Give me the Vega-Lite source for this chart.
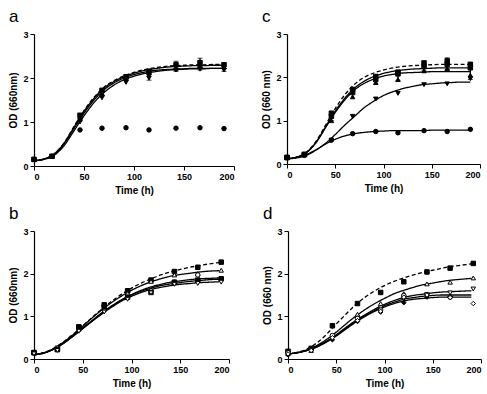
{
  "$schema": "https://vega.github.io/schema/vega-lite/v6.json",
  "padding": {"left": 8, "top": 8, "right": 4, "bottom": 2},
  "background": "white",
  "spacing": 10,
  "config": {
    "view": {"stroke": null},
    "font": "Liberation Sans",
    "axis": {"grid": false, "domainColor": "black", "tickColor": "black", "labelColor": "black", "titleColor": "black", "labelFont": "Liberation Sans", "titleFont": "Liberation Sans", "labelFontWeight": "bold", "titleFontWeight": "bold", "labelFontSize": 9, "titleFontSize": 10, "tickSize": 4, "labelPadding": 2, "domainWidth": 1.2},
    "axisX": {"titlePadding": 4},
    "axisY": {"titlePadding": 4},
    "title": {"font": "Liberation Sans", "fontSize": 17, "fontWeight": "normal", "anchor": "start", "frame": "bounds", "color": "black", "offset": 4}
  },
  "datasets": {
    "curves": [
      {"panel":"a","series":"ctrl","t":0,"od":0.12},{"panel":"a","series":"ctrl","t":10,"od":0.16},{"panel":"a","series":"ctrl","t":20,"od":0.27},{"panel":"a","series":"ctrl","t":30,"od":0.52},{"panel":"a","series":"ctrl","t":40,"od":0.9},{"panel":"a","series":"ctrl","t":50,"od":1.26},{"panel":"a","series":"ctrl","t":60,"od":1.56},{"panel":"a","series":"ctrl","t":70,"od":1.79},{"panel":"a","series":"ctrl","t":80,"od":1.94},{"panel":"a","series":"ctrl","t":90,"od":2.05},{"panel":"a","series":"ctrl","t":100,"od":2.13},{"panel":"a","series":"ctrl","t":110,"od":2.19},{"panel":"a","series":"ctrl","t":120,"od":2.23},{"panel":"a","series":"ctrl","t":130,"od":2.26},{"panel":"a","series":"ctrl","t":140,"od":2.28},{"panel":"a","series":"ctrl","t":150,"od":2.29},{"panel":"a","series":"ctrl","t":160,"od":2.3},{"panel":"a","series":"ctrl","t":170,"od":2.3},{"panel":"a","series":"ctrl","t":180,"od":2.31},{"panel":"a","series":"ctrl","t":190,"od":2.31},
      {"panel":"a","series":"tri_f","t":0,"od":0.12},{"panel":"a","series":"tri_f","t":10,"od":0.16},{"panel":"a","series":"tri_f","t":20,"od":0.27},{"panel":"a","series":"tri_f","t":30,"od":0.52},{"panel":"a","series":"tri_f","t":40,"od":0.88},{"panel":"a","series":"tri_f","t":50,"od":1.24},{"panel":"a","series":"tri_f","t":60,"od":1.54},{"panel":"a","series":"tri_f","t":70,"od":1.77},{"panel":"a","series":"tri_f","t":80,"od":1.92},{"panel":"a","series":"tri_f","t":90,"od":2.03},{"panel":"a","series":"tri_f","t":100,"od":2.11},{"panel":"a","series":"tri_f","t":110,"od":2.17},{"panel":"a","series":"tri_f","t":120,"od":2.21},{"panel":"a","series":"tri_f","t":130,"od":2.24},{"panel":"a","series":"tri_f","t":140,"od":2.26},{"panel":"a","series":"tri_f","t":150,"od":2.27},{"panel":"a","series":"tri_f","t":160,"od":2.28},{"panel":"a","series":"tri_f","t":170,"od":2.28},{"panel":"a","series":"tri_f","t":180,"od":2.29},{"panel":"a","series":"tri_f","t":190,"od":2.29},
      {"panel":"a","series":"itri_f","t":0,"od":0.12},{"panel":"a","series":"itri_f","t":10,"od":0.15},{"panel":"a","series":"itri_f","t":20,"od":0.24},{"panel":"a","series":"itri_f","t":30,"od":0.46},{"panel":"a","series":"itri_f","t":40,"od":0.8},{"panel":"a","series":"itri_f","t":50,"od":1.14},{"panel":"a","series":"itri_f","t":60,"od":1.44},{"panel":"a","series":"itri_f","t":70,"od":1.67},{"panel":"a","series":"itri_f","t":80,"od":1.84},{"panel":"a","series":"itri_f","t":90,"od":1.96},{"panel":"a","series":"itri_f","t":100,"od":2.04},{"panel":"a","series":"itri_f","t":110,"od":2.1},{"panel":"a","series":"itri_f","t":120,"od":2.14},{"panel":"a","series":"itri_f","t":130,"od":2.17},{"panel":"a","series":"itri_f","t":140,"od":2.19},{"panel":"a","series":"itri_f","t":150,"od":2.2},{"panel":"a","series":"itri_f","t":160,"od":2.21},{"panel":"a","series":"itri_f","t":170,"od":2.21},{"panel":"a","series":"itri_f","t":180,"od":2.22},{"panel":"a","series":"itri_f","t":190,"od":2.22},
      {"panel":"a","series":"dia_f","t":0,"od":0.12},{"panel":"a","series":"dia_f","t":10,"od":0.16},{"panel":"a","series":"dia_f","t":20,"od":0.26},{"panel":"a","series":"dia_f","t":30,"od":0.5},{"panel":"a","series":"dia_f","t":40,"od":0.85},{"panel":"a","series":"dia_f","t":50,"od":1.2},{"panel":"a","series":"dia_f","t":60,"od":1.5},{"panel":"a","series":"dia_f","t":70,"od":1.73},{"panel":"a","series":"dia_f","t":80,"od":1.89},{"panel":"a","series":"dia_f","t":90,"od":2.0},{"panel":"a","series":"dia_f","t":100,"od":2.08},{"panel":"a","series":"dia_f","t":110,"od":2.13},{"panel":"a","series":"dia_f","t":120,"od":2.17},{"panel":"a","series":"dia_f","t":130,"od":2.19},{"panel":"a","series":"dia_f","t":140,"od":2.2},{"panel":"a","series":"dia_f","t":150,"od":2.21},{"panel":"a","series":"dia_f","t":160,"od":2.22},{"panel":"a","series":"dia_f","t":170,"od":2.22},{"panel":"a","series":"dia_f","t":180,"od":2.22},{"panel":"a","series":"dia_f","t":190,"od":2.22},

      {"panel":"c","series":"ctrl","t":0,"od":0.12},{"panel":"c","series":"ctrl","t":10,"od":0.16},{"panel":"c","series":"ctrl","t":20,"od":0.27},{"panel":"c","series":"ctrl","t":30,"od":0.52},{"panel":"c","series":"ctrl","t":40,"od":0.9},{"panel":"c","series":"ctrl","t":50,"od":1.28},{"panel":"c","series":"ctrl","t":60,"od":1.6},{"panel":"c","series":"ctrl","t":70,"od":1.84},{"panel":"c","series":"ctrl","t":80,"od":2.0},{"panel":"c","series":"ctrl","t":90,"od":2.1},{"panel":"c","series":"ctrl","t":100,"od":2.17},{"panel":"c","series":"ctrl","t":110,"od":2.22},{"panel":"c","series":"ctrl","t":120,"od":2.25},{"panel":"c","series":"ctrl","t":130,"od":2.27},{"panel":"c","series":"ctrl","t":140,"od":2.28},{"panel":"c","series":"ctrl","t":150,"od":2.29},{"panel":"c","series":"ctrl","t":160,"od":2.3},{"panel":"c","series":"ctrl","t":170,"od":2.3},{"panel":"c","series":"ctrl","t":180,"od":2.3},{"panel":"c","series":"ctrl","t":190,"od":2.3},
      {"panel":"c","series":"fsq","t":0,"od":0.12},{"panel":"c","series":"fsq","t":10,"od":0.16},{"panel":"c","series":"fsq","t":20,"od":0.26},{"panel":"c","series":"fsq","t":30,"od":0.5},{"panel":"c","series":"fsq","t":40,"od":0.86},{"panel":"c","series":"fsq","t":50,"od":1.22},{"panel":"c","series":"fsq","t":60,"od":1.52},{"panel":"c","series":"fsq","t":70,"od":1.75},{"panel":"c","series":"fsq","t":80,"od":1.91},{"panel":"c","series":"fsq","t":90,"od":2.02},{"panel":"c","series":"fsq","t":100,"od":2.09},{"panel":"c","series":"fsq","t":110,"od":2.14},{"panel":"c","series":"fsq","t":120,"od":2.17},{"panel":"c","series":"fsq","t":130,"od":2.19},{"panel":"c","series":"fsq","t":140,"od":2.2},{"panel":"c","series":"fsq","t":150,"od":2.21},{"panel":"c","series":"fsq","t":160,"od":2.22},{"panel":"c","series":"fsq","t":170,"od":2.22},{"panel":"c","series":"fsq","t":180,"od":2.22},{"panel":"c","series":"fsq","t":190,"od":2.22},
      {"panel":"c","series":"tri_f","t":0,"od":0.12},{"panel":"c","series":"tri_f","t":10,"od":0.16},{"panel":"c","series":"tri_f","t":20,"od":0.26},{"panel":"c","series":"tri_f","t":30,"od":0.49},{"panel":"c","series":"tri_f","t":40,"od":0.84},{"panel":"c","series":"tri_f","t":50,"od":1.19},{"panel":"c","series":"tri_f","t":60,"od":1.48},{"panel":"c","series":"tri_f","t":70,"od":1.71},{"panel":"c","series":"tri_f","t":80,"od":1.86},{"panel":"c","series":"tri_f","t":90,"od":1.96},{"panel":"c","series":"tri_f","t":100,"od":2.03},{"panel":"c","series":"tri_f","t":110,"od":2.07},{"panel":"c","series":"tri_f","t":120,"od":2.1},{"panel":"c","series":"tri_f","t":130,"od":2.11},{"panel":"c","series":"tri_f","t":140,"od":2.12},{"panel":"c","series":"tri_f","t":150,"od":2.13},{"panel":"c","series":"tri_f","t":160,"od":2.13},{"panel":"c","series":"tri_f","t":170,"od":2.13},{"panel":"c","series":"tri_f","t":180,"od":2.13},{"panel":"c","series":"tri_f","t":190,"od":2.13},
      {"panel":"c","series":"itri_f","t":0,"od":0.12},{"panel":"c","series":"itri_f","t":10,"od":0.14},{"panel":"c","series":"itri_f","t":20,"od":0.2},{"panel":"c","series":"itri_f","t":30,"od":0.32},{"panel":"c","series":"itri_f","t":40,"od":0.48},{"panel":"c","series":"itri_f","t":50,"od":0.68},{"panel":"c","series":"itri_f","t":60,"od":0.9},{"panel":"c","series":"itri_f","t":70,"od":1.1},{"panel":"c","series":"itri_f","t":80,"od":1.3},{"panel":"c","series":"itri_f","t":90,"od":1.45},{"panel":"c","series":"itri_f","t":100,"od":1.58},{"panel":"c","series":"itri_f","t":110,"od":1.67},{"panel":"c","series":"itri_f","t":120,"od":1.74},{"panel":"c","series":"itri_f","t":130,"od":1.79},{"panel":"c","series":"itri_f","t":140,"od":1.83},{"panel":"c","series":"itri_f","t":150,"od":1.85},{"panel":"c","series":"itri_f","t":160,"od":1.87},{"panel":"c","series":"itri_f","t":170,"od":1.88},{"panel":"c","series":"itri_f","t":180,"od":1.89},{"panel":"c","series":"itri_f","t":190,"od":1.89},
      {"panel":"c","series":"circ_f","t":0,"od":0.12},{"panel":"c","series":"circ_f","t":10,"od":0.15},{"panel":"c","series":"circ_f","t":20,"od":0.22},{"panel":"c","series":"circ_f","t":30,"od":0.33},{"panel":"c","series":"circ_f","t":40,"od":0.46},{"panel":"c","series":"circ_f","t":50,"od":0.57},{"panel":"c","series":"circ_f","t":60,"od":0.65},{"panel":"c","series":"circ_f","t":70,"od":0.7},{"panel":"c","series":"circ_f","t":80,"od":0.73},{"panel":"c","series":"circ_f","t":90,"od":0.75},{"panel":"c","series":"circ_f","t":100,"od":0.76},{"panel":"c","series":"circ_f","t":110,"od":0.77},{"panel":"c","series":"circ_f","t":120,"od":0.77},{"panel":"c","series":"circ_f","t":130,"od":0.77},{"panel":"c","series":"circ_f","t":140,"od":0.77},{"panel":"c","series":"circ_f","t":150,"od":0.78},{"panel":"c","series":"circ_f","t":160,"od":0.78},{"panel":"c","series":"circ_f","t":170,"od":0.78},{"panel":"c","series":"circ_f","t":180,"od":0.78},{"panel":"c","series":"circ_f","t":190,"od":0.78},

      {"panel":"b","series":"ctrl","t":0,"od":0.1},{"panel":"b","series":"ctrl","t":10,"od":0.15},{"panel":"b","series":"ctrl","t":20,"od":0.25},{"panel":"b","series":"ctrl","t":30,"od":0.4},{"panel":"b","series":"ctrl","t":40,"od":0.58},{"panel":"b","series":"ctrl","t":50,"od":0.78},{"panel":"b","series":"ctrl","t":60,"od":0.98},{"panel":"b","series":"ctrl","t":70,"od":1.18},{"panel":"b","series":"ctrl","t":80,"od":1.36},{"panel":"b","series":"ctrl","t":90,"od":1.52},{"panel":"b","series":"ctrl","t":100,"od":1.66},{"panel":"b","series":"ctrl","t":110,"od":1.78},{"panel":"b","series":"ctrl","t":120,"od":1.88},{"panel":"b","series":"ctrl","t":130,"od":1.97},{"panel":"b","series":"ctrl","t":140,"od":2.04},{"panel":"b","series":"ctrl","t":150,"od":2.1},{"panel":"b","series":"ctrl","t":160,"od":2.15},{"panel":"b","series":"ctrl","t":170,"od":2.19},{"panel":"b","series":"ctrl","t":180,"od":2.23},{"panel":"b","series":"ctrl","t":190,"od":2.26},
      {"panel":"b","series":"tri_o","t":0,"od":0.1},{"panel":"b","series":"tri_o","t":10,"od":0.15},{"panel":"b","series":"tri_o","t":20,"od":0.24},{"panel":"b","series":"tri_o","t":30,"od":0.39},{"panel":"b","series":"tri_o","t":40,"od":0.57},{"panel":"b","series":"tri_o","t":50,"od":0.77},{"panel":"b","series":"tri_o","t":60,"od":0.97},{"panel":"b","series":"tri_o","t":70,"od":1.16},{"panel":"b","series":"tri_o","t":80,"od":1.33},{"panel":"b","series":"tri_o","t":90,"od":1.48},{"panel":"b","series":"tri_o","t":100,"od":1.61},{"panel":"b","series":"tri_o","t":110,"od":1.72},{"panel":"b","series":"tri_o","t":120,"od":1.81},{"panel":"b","series":"tri_o","t":130,"od":1.88},{"panel":"b","series":"tri_o","t":140,"od":1.94},{"panel":"b","series":"tri_o","t":150,"od":1.98},{"panel":"b","series":"tri_o","t":160,"od":2.01},{"panel":"b","series":"tri_o","t":170,"od":2.04},{"panel":"b","series":"tri_o","t":180,"od":2.06},{"panel":"b","series":"tri_o","t":190,"od":2.07},
      {"panel":"b","series":"circ_o","t":0,"od":0.1},{"panel":"b","series":"circ_o","t":10,"od":0.14},{"panel":"b","series":"circ_o","t":20,"od":0.23},{"panel":"b","series":"circ_o","t":30,"od":0.37},{"panel":"b","series":"circ_o","t":40,"od":0.54},{"panel":"b","series":"circ_o","t":50,"od":0.73},{"panel":"b","series":"circ_o","t":60,"od":0.91},{"panel":"b","series":"circ_o","t":70,"od":1.09},{"panel":"b","series":"circ_o","t":80,"od":1.25},{"panel":"b","series":"circ_o","t":90,"od":1.39},{"panel":"b","series":"circ_o","t":100,"od":1.51},{"panel":"b","series":"circ_o","t":110,"od":1.61},{"panel":"b","series":"circ_o","t":120,"od":1.69},{"panel":"b","series":"circ_o","t":130,"od":1.75},{"panel":"b","series":"circ_o","t":140,"od":1.8},{"panel":"b","series":"circ_o","t":150,"od":1.83},{"panel":"b","series":"circ_o","t":160,"od":1.86},{"panel":"b","series":"circ_o","t":170,"od":1.88},{"panel":"b","series":"circ_o","t":180,"od":1.89},{"panel":"b","series":"circ_o","t":190,"od":1.9},
      {"panel":"b","series":"fsq","t":0,"od":0.1},{"panel":"b","series":"fsq","t":10,"od":0.14},{"panel":"b","series":"fsq","t":20,"od":0.23},{"panel":"b","series":"fsq","t":30,"od":0.37},{"panel":"b","series":"fsq","t":40,"od":0.54},{"panel":"b","series":"fsq","t":50,"od":0.72},{"panel":"b","series":"fsq","t":60,"od":0.9},{"panel":"b","series":"fsq","t":70,"od":1.08},{"panel":"b","series":"fsq","t":80,"od":1.24},{"panel":"b","series":"fsq","t":90,"od":1.38},{"panel":"b","series":"fsq","t":100,"od":1.5},{"panel":"b","series":"fsq","t":110,"od":1.59},{"panel":"b","series":"fsq","t":120,"od":1.66},{"panel":"b","series":"fsq","t":130,"od":1.72},{"panel":"b","series":"fsq","t":140,"od":1.76},{"panel":"b","series":"fsq","t":150,"od":1.79},{"panel":"b","series":"fsq","t":160,"od":1.82},{"panel":"b","series":"fsq","t":170,"od":1.84},{"panel":"b","series":"fsq","t":180,"od":1.86},{"panel":"b","series":"fsq","t":190,"od":1.87},
      {"panel":"b","series":"itri_o","t":0,"od":0.1},{"panel":"b","series":"itri_o","t":10,"od":0.14},{"panel":"b","series":"itri_o","t":20,"od":0.23},{"panel":"b","series":"itri_o","t":30,"od":0.36},{"panel":"b","series":"itri_o","t":40,"od":0.53},{"panel":"b","series":"itri_o","t":50,"od":0.71},{"panel":"b","series":"itri_o","t":60,"od":0.89},{"panel":"b","series":"itri_o","t":70,"od":1.06},{"panel":"b","series":"itri_o","t":80,"od":1.22},{"panel":"b","series":"itri_o","t":90,"od":1.36},{"panel":"b","series":"itri_o","t":100,"od":1.47},{"panel":"b","series":"itri_o","t":110,"od":1.56},{"panel":"b","series":"itri_o","t":120,"od":1.63},{"panel":"b","series":"itri_o","t":130,"od":1.68},{"panel":"b","series":"itri_o","t":140,"od":1.72},{"panel":"b","series":"itri_o","t":150,"od":1.75},{"panel":"b","series":"itri_o","t":160,"od":1.77},{"panel":"b","series":"itri_o","t":170,"od":1.79},{"panel":"b","series":"itri_o","t":180,"od":1.8},{"panel":"b","series":"itri_o","t":190,"od":1.81},

      {"panel":"d","series":"ctrl","t":0,"od":0.12},{"panel":"d","series":"ctrl","t":10,"od":0.16},{"panel":"d","series":"ctrl","t":20,"od":0.24},{"panel":"d","series":"ctrl","t":30,"od":0.38},{"panel":"d","series":"ctrl","t":40,"od":0.58},{"panel":"d","series":"ctrl","t":50,"od":0.82},{"panel":"d","series":"ctrl","t":60,"od":1.05},{"panel":"d","series":"ctrl","t":70,"od":1.27},{"panel":"d","series":"ctrl","t":80,"od":1.45},{"panel":"d","series":"ctrl","t":90,"od":1.6},{"panel":"d","series":"ctrl","t":100,"od":1.72},{"panel":"d","series":"ctrl","t":110,"od":1.82},{"panel":"d","series":"ctrl","t":120,"od":1.9},{"panel":"d","series":"ctrl","t":130,"od":1.97},{"panel":"d","series":"ctrl","t":140,"od":2.03},{"panel":"d","series":"ctrl","t":150,"od":2.08},{"panel":"d","series":"ctrl","t":160,"od":2.13},{"panel":"d","series":"ctrl","t":170,"od":2.17},{"panel":"d","series":"ctrl","t":180,"od":2.2},{"panel":"d","series":"ctrl","t":190,"od":2.23},
      {"panel":"d","series":"tri_o","t":0,"od":0.12},{"panel":"d","series":"tri_o","t":10,"od":0.15},{"panel":"d","series":"tri_o","t":20,"od":0.22},{"panel":"d","series":"tri_o","t":30,"od":0.32},{"panel":"d","series":"tri_o","t":40,"od":0.46},{"panel":"d","series":"tri_o","t":50,"od":0.63},{"panel":"d","series":"tri_o","t":60,"od":0.82},{"panel":"d","series":"tri_o","t":70,"od":1.0},{"panel":"d","series":"tri_o","t":80,"od":1.16},{"panel":"d","series":"tri_o","t":90,"od":1.3},{"panel":"d","series":"tri_o","t":100,"od":1.42},{"panel":"d","series":"tri_o","t":110,"od":1.53},{"panel":"d","series":"tri_o","t":120,"od":1.61},{"panel":"d","series":"tri_o","t":130,"od":1.68},{"panel":"d","series":"tri_o","t":140,"od":1.74},{"panel":"d","series":"tri_o","t":150,"od":1.78},{"panel":"d","series":"tri_o","t":160,"od":1.82},{"panel":"d","series":"tri_o","t":170,"od":1.85},{"panel":"d","series":"tri_o","t":180,"od":1.87},{"panel":"d","series":"tri_o","t":190,"od":1.89},
      {"panel":"d","series":"itri_o","t":0,"od":0.12},{"panel":"d","series":"itri_o","t":10,"od":0.15},{"panel":"d","series":"itri_o","t":20,"od":0.21},{"panel":"d","series":"itri_o","t":30,"od":0.3},{"panel":"d","series":"itri_o","t":40,"od":0.42},{"panel":"d","series":"itri_o","t":50,"od":0.57},{"panel":"d","series":"itri_o","t":60,"od":0.74},{"panel":"d","series":"itri_o","t":70,"od":0.9},{"panel":"d","series":"itri_o","t":80,"od":1.04},{"panel":"d","series":"itri_o","t":90,"od":1.17},{"panel":"d","series":"itri_o","t":100,"od":1.28},{"panel":"d","series":"itri_o","t":110,"od":1.37},{"panel":"d","series":"itri_o","t":120,"od":1.44},{"panel":"d","series":"itri_o","t":130,"od":1.49},{"panel":"d","series":"itri_o","t":140,"od":1.52},{"panel":"d","series":"itri_o","t":150,"od":1.55},{"panel":"d","series":"itri_o","t":160,"od":1.57},{"panel":"d","series":"itri_o","t":170,"od":1.58},{"panel":"d","series":"itri_o","t":180,"od":1.59},{"panel":"d","series":"itri_o","t":190,"od":1.6},
      {"panel":"d","series":"circ_o","t":0,"od":0.12},{"panel":"d","series":"circ_o","t":10,"od":0.15},{"panel":"d","series":"circ_o","t":20,"od":0.2},{"panel":"d","series":"circ_o","t":30,"od":0.29},{"panel":"d","series":"circ_o","t":40,"od":0.41},{"panel":"d","series":"circ_o","t":50,"od":0.55},{"panel":"d","series":"circ_o","t":60,"od":0.72},{"panel":"d","series":"circ_o","t":70,"od":0.88},{"panel":"d","series":"circ_o","t":80,"od":1.02},{"panel":"d","series":"circ_o","t":90,"od":1.14},{"panel":"d","series":"circ_o","t":100,"od":1.25},{"panel":"d","series":"circ_o","t":110,"od":1.33},{"panel":"d","series":"circ_o","t":120,"od":1.4},{"panel":"d","series":"circ_o","t":130,"od":1.44},{"panel":"d","series":"circ_o","t":140,"od":1.47},{"panel":"d","series":"circ_o","t":150,"od":1.49},{"panel":"d","series":"circ_o","t":160,"od":1.5},{"panel":"d","series":"circ_o","t":170,"od":1.5},{"panel":"d","series":"circ_o","t":180,"od":1.5},{"panel":"d","series":"circ_o","t":190,"od":1.5},
      {"panel":"d","series":"dia_o","t":0,"od":0.12},{"panel":"d","series":"dia_o","t":10,"od":0.15},{"panel":"d","series":"dia_o","t":20,"od":0.2},{"panel":"d","series":"dia_o","t":30,"od":0.28},{"panel":"d","series":"dia_o","t":40,"od":0.4},{"panel":"d","series":"dia_o","t":50,"od":0.54},{"panel":"d","series":"dia_o","t":60,"od":0.7},{"panel":"d","series":"dia_o","t":70,"od":0.86},{"panel":"d","series":"dia_o","t":80,"od":1.0},{"panel":"d","series":"dia_o","t":90,"od":1.12},{"panel":"d","series":"dia_o","t":100,"od":1.22},{"panel":"d","series":"dia_o","t":110,"od":1.3},{"panel":"d","series":"dia_o","t":120,"od":1.36},{"panel":"d","series":"dia_o","t":130,"od":1.4},{"panel":"d","series":"dia_o","t":140,"od":1.42},{"panel":"d","series":"dia_o","t":150,"od":1.44},{"panel":"d","series":"dia_o","t":160,"od":1.45},{"panel":"d","series":"dia_o","t":170,"od":1.45},{"panel":"d","series":"dia_o","t":180,"od":1.45},{"panel":"d","series":"dia_o","t":190,"od":1.45}
    ],
    "points": [
      {"panel":"a","series":"ctrl","t":0,"od":0.15},{"panel":"a","series":"ctrl","t":18,"od":0.22},{"panel":"a","series":"ctrl","t":46,"od":1.15},{"panel":"a","series":"ctrl","t":68,"od":1.72},{"panel":"a","series":"ctrl","t":92,"od":2.03},{"panel":"a","series":"ctrl","t":115,"od":2.15},{"panel":"a","series":"ctrl","t":142,"od":2.3},{"panel":"a","series":"ctrl","t":166,"od":2.35},{"panel":"a","series":"ctrl","t":190,"od":2.3},
      {"panel":"a","series":"tri_f","t":0,"od":0.15},{"panel":"a","series":"tri_f","t":18,"od":0.22},{"panel":"a","series":"tri_f","t":46,"od":1.12},{"panel":"a","series":"tri_f","t":68,"od":1.65},{"panel":"a","series":"tri_f","t":92,"od":2.0},{"panel":"a","series":"tri_f","t":115,"od":2.12},{"panel":"a","series":"tri_f","t":142,"od":2.22},{"panel":"a","series":"tri_f","t":166,"od":2.28},{"panel":"a","series":"tri_f","t":190,"od":2.25},
      {"panel":"a","series":"itri_f","t":0,"od":0.15},{"panel":"a","series":"itri_f","t":18,"od":0.22},{"panel":"a","series":"itri_f","t":46,"od":1.0},{"panel":"a","series":"itri_f","t":68,"od":1.55},{"panel":"a","series":"itri_f","t":92,"od":1.9},{"panel":"a","series":"itri_f","t":115,"od":2.0},{"panel":"a","series":"itri_f","t":142,"od":2.18},{"panel":"a","series":"itri_f","t":166,"od":2.2},{"panel":"a","series":"itri_f","t":190,"od":2.18},
      {"panel":"a","series":"dia_f","t":0,"od":0.15},{"panel":"a","series":"dia_f","t":18,"od":0.22},{"panel":"a","series":"dia_f","t":46,"od":1.05},{"panel":"a","series":"dia_f","t":68,"od":1.6},{"panel":"a","series":"dia_f","t":92,"od":1.95},{"panel":"a","series":"dia_f","t":115,"od":2.08},{"panel":"a","series":"dia_f","t":142,"od":2.2},{"panel":"a","series":"dia_f","t":166,"od":2.25},{"panel":"a","series":"dia_f","t":190,"od":2.22},
      {"panel":"a","series":"circ_f","t":0,"od":0.15},{"panel":"a","series":"circ_f","t":18,"od":0.22},{"panel":"a","series":"circ_f","t":46,"od":0.82},{"panel":"a","series":"circ_f","t":68,"od":0.86},{"panel":"a","series":"circ_f","t":92,"od":0.87},{"panel":"a","series":"circ_f","t":115,"od":0.82},{"panel":"a","series":"circ_f","t":142,"od":0.86},{"panel":"a","series":"circ_f","t":166,"od":0.87},{"panel":"a","series":"circ_f","t":190,"od":0.85},

      {"panel":"c","series":"ctrl","t":0,"od":0.15},{"panel":"c","series":"ctrl","t":18,"od":0.22},{"panel":"c","series":"ctrl","t":46,"od":1.17},{"panel":"c","series":"ctrl","t":68,"od":1.72},{"panel":"c","series":"ctrl","t":92,"od":2.02},{"panel":"c","series":"ctrl","t":115,"od":2.12},{"panel":"c","series":"ctrl","t":142,"od":2.33},{"panel":"c","series":"ctrl","t":166,"od":2.38},{"panel":"c","series":"ctrl","t":190,"od":2.3},
      {"panel":"c","series":"fsq","t":0,"od":0.15},{"panel":"c","series":"fsq","t":18,"od":0.22},{"panel":"c","series":"fsq","t":46,"od":1.1},{"panel":"c","series":"fsq","t":68,"od":1.65},{"panel":"c","series":"fsq","t":92,"od":1.95},{"panel":"c","series":"fsq","t":115,"od":2.08},{"panel":"c","series":"fsq","t":142,"od":2.25},{"panel":"c","series":"fsq","t":166,"od":2.3},{"panel":"c","series":"fsq","t":190,"od":2.22},
      {"panel":"c","series":"tri_f","t":0,"od":0.15},{"panel":"c","series":"tri_f","t":18,"od":0.22},{"panel":"c","series":"tri_f","t":46,"od":1.0},{"panel":"c","series":"tri_f","t":68,"od":1.55},{"panel":"c","series":"tri_f","t":92,"od":1.88},{"panel":"c","series":"tri_f","t":115,"od":1.95},{"panel":"c","series":"tri_f","t":142,"od":2.15},{"panel":"c","series":"tri_f","t":166,"od":2.2},{"panel":"c","series":"tri_f","t":190,"od":2.05},
      {"panel":"c","series":"itri_f","t":0,"od":0.15},{"panel":"c","series":"itri_f","t":18,"od":0.2},{"panel":"c","series":"itri_f","t":46,"od":0.55},{"panel":"c","series":"itri_f","t":68,"od":1.1},{"panel":"c","series":"itri_f","t":92,"od":1.5},{"panel":"c","series":"itri_f","t":115,"od":1.63},{"panel":"c","series":"itri_f","t":142,"od":1.83},{"panel":"c","series":"itri_f","t":166,"od":1.85},{"panel":"c","series":"itri_f","t":190,"od":1.97},
      {"panel":"c","series":"circ_f","t":0,"od":0.15},{"panel":"c","series":"circ_f","t":18,"od":0.2},{"panel":"c","series":"circ_f","t":46,"od":0.55},{"panel":"c","series":"circ_f","t":68,"od":0.7},{"panel":"c","series":"circ_f","t":92,"od":0.75},{"panel":"c","series":"circ_f","t":115,"od":0.72},{"panel":"c","series":"circ_f","t":142,"od":0.77},{"panel":"c","series":"circ_f","t":166,"od":0.75},{"panel":"c","series":"circ_f","t":190,"od":0.8},

      {"panel":"b","series":"ctrl","t":0,"od":0.15},{"panel":"b","series":"ctrl","t":24,"od":0.25},{"panel":"b","series":"ctrl","t":46,"od":0.75},{"panel":"b","series":"ctrl","t":72,"od":1.27},{"panel":"b","series":"ctrl","t":96,"od":1.6},{"panel":"b","series":"ctrl","t":120,"od":1.85},{"panel":"b","series":"ctrl","t":144,"od":2.05},{"panel":"b","series":"ctrl","t":168,"od":2.15},{"panel":"b","series":"ctrl","t":192,"od":2.27},
      {"panel":"b","series":"tri_o","t":0,"od":0.15},{"panel":"b","series":"tri_o","t":24,"od":0.22},{"panel":"b","series":"tri_o","t":46,"od":0.7},{"panel":"b","series":"tri_o","t":72,"od":1.2},{"panel":"b","series":"tri_o","t":96,"od":1.55},{"panel":"b","series":"tri_o","t":120,"od":1.82},{"panel":"b","series":"tri_o","t":144,"od":1.97},{"panel":"b","series":"tri_o","t":168,"od":2.0},{"panel":"b","series":"tri_o","t":192,"od":2.08},
      {"panel":"b","series":"circ_o","t":0,"od":0.15},{"panel":"b","series":"circ_o","t":24,"od":0.25},{"panel":"b","series":"circ_o","t":46,"od":0.7},{"panel":"b","series":"circ_o","t":72,"od":1.15},{"panel":"b","series":"circ_o","t":96,"od":1.5},{"panel":"b","series":"circ_o","t":120,"od":1.6},{"panel":"b","series":"circ_o","t":144,"od":1.8},{"panel":"b","series":"circ_o","t":168,"od":1.97},{"panel":"b","series":"circ_o","t":192,"od":1.88},
      {"panel":"b","series":"fsq","t":0,"od":0.15},{"panel":"b","series":"fsq","t":24,"od":0.22},{"panel":"b","series":"fsq","t":46,"od":0.75},{"panel":"b","series":"fsq","t":72,"od":1.22},{"panel":"b","series":"fsq","t":96,"od":1.45},{"panel":"b","series":"fsq","t":120,"od":1.56},{"panel":"b","series":"fsq","t":144,"od":1.8},{"panel":"b","series":"fsq","t":168,"od":1.85},{"panel":"b","series":"fsq","t":192,"od":1.88},
      {"panel":"b","series":"itri_o","t":0,"od":0.12},{"panel":"b","series":"itri_o","t":24,"od":0.2},{"panel":"b","series":"itri_o","t":46,"od":0.65},{"panel":"b","series":"itri_o","t":72,"od":1.1},{"panel":"b","series":"itri_o","t":96,"od":1.4},{"panel":"b","series":"itri_o","t":120,"od":1.55},{"panel":"b","series":"itri_o","t":144,"od":1.75},{"panel":"b","series":"itri_o","t":168,"od":1.77},{"panel":"b","series":"itri_o","t":192,"od":1.8},

      {"panel":"d","series":"ctrl","t":0,"od":0.18},{"panel":"d","series":"ctrl","t":24,"od":0.25},{"panel":"d","series":"ctrl","t":46,"od":0.78},{"panel":"d","series":"ctrl","t":72,"od":1.3},{"panel":"d","series":"ctrl","t":96,"od":1.56},{"panel":"d","series":"ctrl","t":120,"od":1.81},{"panel":"d","series":"ctrl","t":144,"od":2.04},{"panel":"d","series":"ctrl","t":168,"od":2.13},{"panel":"d","series":"ctrl","t":192,"od":2.24},
      {"panel":"d","series":"tri_o","t":0,"od":0.12},{"panel":"d","series":"tri_o","t":24,"od":0.2},{"panel":"d","series":"tri_o","t":46,"od":0.55},{"panel":"d","series":"tri_o","t":72,"od":1.05},{"panel":"d","series":"tri_o","t":96,"od":1.3},{"panel":"d","series":"tri_o","t":120,"od":1.53},{"panel":"d","series":"tri_o","t":144,"od":1.76},{"panel":"d","series":"tri_o","t":168,"od":1.8},{"panel":"d","series":"tri_o","t":192,"od":1.9},
      {"panel":"d","series":"itri_o","t":0,"od":0.15},{"panel":"d","series":"itri_o","t":24,"od":0.22},{"panel":"d","series":"itri_o","t":46,"od":0.5},{"panel":"d","series":"itri_o","t":72,"od":0.95},{"panel":"d","series":"itri_o","t":96,"od":1.2},{"panel":"d","series":"itri_o","t":120,"od":1.41},{"panel":"d","series":"itri_o","t":144,"od":1.51},{"panel":"d","series":"itri_o","t":168,"od":1.55},{"panel":"d","series":"itri_o","t":192,"od":1.64},
      {"panel":"d","series":"circ_o","t":0,"od":0.15},{"panel":"d","series":"circ_o","t":24,"od":0.22},{"panel":"d","series":"circ_o","t":46,"od":0.55},{"panel":"d","series":"circ_o","t":72,"od":0.95},{"panel":"d","series":"circ_o","t":96,"od":1.15},{"panel":"d","series":"circ_o","t":120,"od":1.49},{"panel":"d","series":"circ_o","t":144,"od":1.51},{"panel":"d","series":"circ_o","t":168,"od":1.45},
      {"panel":"d","series":"dia_f","t":0,"od":0.1},{"panel":"d","series":"dia_f","t":24,"od":0.22},{"panel":"d","series":"dia_f","t":46,"od":0.45},{"panel":"d","series":"dia_f","t":72,"od":0.88},{"panel":"d","series":"dia_f","t":96,"od":1.1},{"panel":"d","series":"dia_f","t":120,"od":1.32},{"panel":"d","series":"dia_f","t":144,"od":1.45},{"panel":"d","series":"dia_f","t":168,"od":1.46},
      {"panel":"d","series":"dia_o","t":0,"od":0.12},{"panel":"d","series":"dia_o","t":24,"od":0.2},{"panel":"d","series":"dia_o","t":46,"od":0.5},{"panel":"d","series":"dia_o","t":72,"od":0.9},{"panel":"d","series":"dia_o","t":96,"od":1.12},{"panel":"d","series":"dia_o","t":120,"od":1.45},{"panel":"d","series":"dia_o","t":144,"od":1.5},{"panel":"d","series":"dia_o","t":168,"od":1.44},{"panel":"d","series":"dia_o","t":192,"od":1.3}
    ],
    "errs": [
      {"panel":"a","t":46,"lo":1.02,"hi":1.2},{"panel":"a","t":115,"lo":1.95,"hi":2.2},{"panel":"a","t":142,"lo":2.15,"hi":2.38},{"panel":"a","t":166,"lo":2.18,"hi":2.45},{"panel":"a","t":190,"lo":2.15,"hi":2.35},
      {"panel":"c","t":46,"lo":1.0,"hi":1.22},{"panel":"c","t":115,"lo":1.92,"hi":2.15},{"panel":"c","t":142,"lo":2.15,"hi":2.38},{"panel":"c","t":166,"lo":2.18,"hi":2.45},{"panel":"c","t":190,"lo":1.95,"hi":2.33}
    ]
  },
  "vconcat": [
    {"spacing": 26, "hconcat": [
      {"title": "a", "width": 200, "height": 132,
       "layer": [
         {"data": {"name": "curves"}, "transform": [{"filter": "datum.panel === 'a'"}], "mark": {"type": "line", "color": "black", "strokeWidth": 1.3, "interpolate": "monotone"},
          "encoding": {"x": {"field": "t", "type": "quantitative", "scale": {"domain": [0, 200]}, "axis": {"title": "Time (h)", "values": [0, 50, 100, 150, 200]}}, "y": {"field": "od", "type": "quantitative", "scale": {"domain": [0, 3]}, "axis": {"title": "OD (660nm)", "values": [0, 1, 2, 3]}}, "strokeDash": {"field": "series", "type": "nominal", "scale": {"domain": ["ctrl", "fsq", "tri_f", "itri_f", "circ_f", "dia_f", "tri_o", "itri_o", "circ_o", "dia_o"], "range": [[4, 2.5], [1, 0], [1, 0], [1, 0], [1, 0], [1, 0], [1, 0], [1, 0], [1, 0], [1, 0]]}, "legend": null}}},
         {"data": {"name": "errs"}, "transform": [{"filter": "datum.panel === 'a'"}], "mark": {"type": "errorbar", "ticks": {"size": 5, "color": "black"}, "rule": {"color": "black", "strokeWidth": 1.3}},
          "encoding": {"x": {"field": "t", "type": "quantitative", "title": "Time (h)"}, "y": {"field": "lo", "type": "quantitative", "title": "OD (660nm)"}, "y2": {"field": "hi"}}},
         {"data": {"name": "points"}, "transform": [{"filter": "datum.panel === 'a'"}], "mark": {"type": "point", "filled": false, "stroke": "black", "strokeWidth": 1, "opacity": 1, "size": 20},
          "encoding": {"x": {"field": "t", "type": "quantitative", "title": "Time (h)"}, "y": {"field": "od", "type": "quantitative", "title": "OD (660nm)"}, "shape": {"field": "series", "type": "nominal", "scale": {"domain": ["ctrl", "fsq", "tri_f", "itri_f", "circ_f", "dia_f", "tri_o", "itri_o", "circ_o", "dia_o"], "range": ["square", "square", "triangle-up", "triangle-down", "circle", "diamond", "triangle-up", "triangle-down", "circle", "diamond"]}, "legend": null}, "fill": {"field": "series", "type": "nominal", "scale": {"domain": ["ctrl", "fsq", "tri_f", "itri_f", "circ_f", "dia_f", "tri_o", "itri_o", "circ_o", "dia_o"], "range": ["black", "black", "black", "black", "black", "black", "white", "white", "white", "white"]}, "legend": null}}}
       ]},
      {"title": "c", "width": 193, "height": 130,
       "layer": [
         {"data": {"name": "curves"}, "transform": [{"filter": "datum.panel === 'c'"}], "mark": {"type": "line", "color": "black", "strokeWidth": 1.3, "interpolate": "monotone"},
          "encoding": {"x": {"field": "t", "type": "quantitative", "scale": {"domain": [0, 200]}, "axis": {"title": "Time (h)", "values": [0, 50, 100, 150, 200]}}, "y": {"field": "od", "type": "quantitative", "scale": {"domain": [0, 3]}, "axis": {"title": "OD (660 nm)", "values": [0, 1, 2, 3]}}, "strokeDash": {"field": "series", "type": "nominal", "scale": {"domain": ["ctrl", "fsq", "tri_f", "itri_f", "circ_f", "dia_f", "tri_o", "itri_o", "circ_o", "dia_o"], "range": [[4, 2.5], [1, 0], [1, 0], [1, 0], [1, 0], [1, 0], [1, 0], [1, 0], [1, 0], [1, 0]]}, "legend": null}}},
         {"data": {"name": "errs"}, "transform": [{"filter": "datum.panel === 'c'"}], "mark": {"type": "errorbar", "ticks": {"size": 5, "color": "black"}, "rule": {"color": "black", "strokeWidth": 1.3}},
          "encoding": {"x": {"field": "t", "type": "quantitative", "title": "Time (h)"}, "y": {"field": "lo", "type": "quantitative", "title": "OD (660 nm)"}, "y2": {"field": "hi"}}},
         {"data": {"name": "points"}, "transform": [{"filter": "datum.panel === 'c'"}], "mark": {"type": "point", "filled": false, "stroke": "black", "strokeWidth": 1, "opacity": 1, "size": 20},
          "encoding": {"x": {"field": "t", "type": "quantitative", "title": "Time (h)"}, "y": {"field": "od", "type": "quantitative", "title": "OD (660 nm)"}, "shape": {"field": "series", "type": "nominal", "scale": {"domain": ["ctrl", "fsq", "tri_f", "itri_f", "circ_f", "dia_f", "tri_o", "itri_o", "circ_o", "dia_o"], "range": ["square", "square", "triangle-up", "triangle-down", "circle", "diamond", "triangle-up", "triangle-down", "circle", "diamond"]}, "legend": null}, "fill": {"field": "series", "type": "nominal", "scale": {"domain": ["ctrl", "fsq", "tri_f", "itri_f", "circ_f", "dia_f", "tri_o", "itri_o", "circ_o", "dia_o"], "range": ["black", "black", "black", "black", "black", "black", "white", "white", "white", "white"]}, "legend": null}}}
       ]}
    ]},
    {"spacing": 32, "hconcat": [
      {"title": "b", "width": 195, "height": 128,
       "layer": [
         {"data": {"name": "curves"}, "transform": [{"filter": "datum.panel === 'b'"}], "mark": {"type": "line", "color": "black", "strokeWidth": 1.3, "interpolate": "monotone"},
          "encoding": {"x": {"field": "t", "type": "quantitative", "scale": {"domain": [0, 200]}, "axis": {"title": "Time (h)", "values": [0, 50, 100, 150, 200]}}, "y": {"field": "od", "type": "quantitative", "scale": {"domain": [0, 3]}, "axis": {"title": "OD (660nm)", "values": [0, 1, 2, 3]}}, "strokeDash": {"field": "series", "type": "nominal", "scale": {"domain": ["ctrl", "fsq", "tri_f", "itri_f", "circ_f", "dia_f", "tri_o", "itri_o", "circ_o", "dia_o"], "range": [[4, 2.5], [1, 0], [1, 0], [1, 0], [1, 0], [1, 0], [1, 0], [1, 0], [1, 0], [1, 0]]}, "legend": null}}},
         {"data": {"name": "points"}, "transform": [{"filter": "datum.panel === 'b'"}], "mark": {"type": "point", "filled": false, "stroke": "black", "strokeWidth": 1, "opacity": 1, "size": 20},
          "encoding": {"x": {"field": "t", "type": "quantitative", "title": "Time (h)"}, "y": {"field": "od", "type": "quantitative", "title": "OD (660nm)"}, "shape": {"field": "series", "type": "nominal", "scale": {"domain": ["ctrl", "fsq", "tri_f", "itri_f", "circ_f", "dia_f", "tri_o", "itri_o", "circ_o", "dia_o"], "range": ["square", "square", "triangle-up", "triangle-down", "circle", "diamond", "triangle-up", "triangle-down", "circle", "diamond"]}, "legend": null}, "fill": {"field": "series", "type": "nominal", "scale": {"domain": ["ctrl", "fsq", "tri_f", "itri_f", "circ_f", "dia_f", "tri_o", "itri_o", "circ_o", "dia_o"], "range": ["black", "black", "black", "black", "black", "black", "white", "white", "white", "white"]}, "legend": null}}}
       ]},
      {"title": "d", "width": 193, "height": 128,
       "layer": [
         {"data": {"name": "curves"}, "transform": [{"filter": "datum.panel === 'd'"}], "mark": {"type": "line", "color": "black", "strokeWidth": 1.3, "interpolate": "monotone"},
          "encoding": {"x": {"field": "t", "type": "quantitative", "scale": {"domain": [0, 200]}, "axis": {"title": "Time (h)", "values": [0, 50, 100, 150, 200]}}, "y": {"field": "od", "type": "quantitative", "scale": {"domain": [0, 3]}, "axis": {"title": "OD (660 nm)", "values": [0, 1, 2, 3]}}, "strokeDash": {"field": "series", "type": "nominal", "scale": {"domain": ["ctrl", "fsq", "tri_f", "itri_f", "circ_f", "dia_f", "tri_o", "itri_o", "circ_o", "dia_o"], "range": [[4, 2.5], [1, 0], [1, 0], [1, 0], [1, 0], [1, 0], [1, 0], [1, 0], [1, 0], [1, 0]]}, "legend": null}}},
         {"data": {"name": "points"}, "transform": [{"filter": "datum.panel === 'd'"}], "mark": {"type": "point", "filled": false, "stroke": "black", "strokeWidth": 1, "opacity": 1, "size": 20},
          "encoding": {"x": {"field": "t", "type": "quantitative", "title": "Time (h)"}, "y": {"field": "od", "type": "quantitative", "title": "OD (660 nm)"}, "shape": {"field": "series", "type": "nominal", "scale": {"domain": ["ctrl", "fsq", "tri_f", "itri_f", "circ_f", "dia_f", "tri_o", "itri_o", "circ_o", "dia_o"], "range": ["square", "square", "triangle-up", "triangle-down", "circle", "diamond", "triangle-up", "triangle-down", "circle", "diamond"]}, "legend": null}, "fill": {"field": "series", "type": "nominal", "scale": {"domain": ["ctrl", "fsq", "tri_f", "itri_f", "circ_f", "dia_f", "tri_o", "itri_o", "circ_o", "dia_o"], "range": ["black", "black", "black", "black", "black", "black", "white", "white", "white", "white"]}, "legend": null}}}
       ]}
    ]}
  ]
}
